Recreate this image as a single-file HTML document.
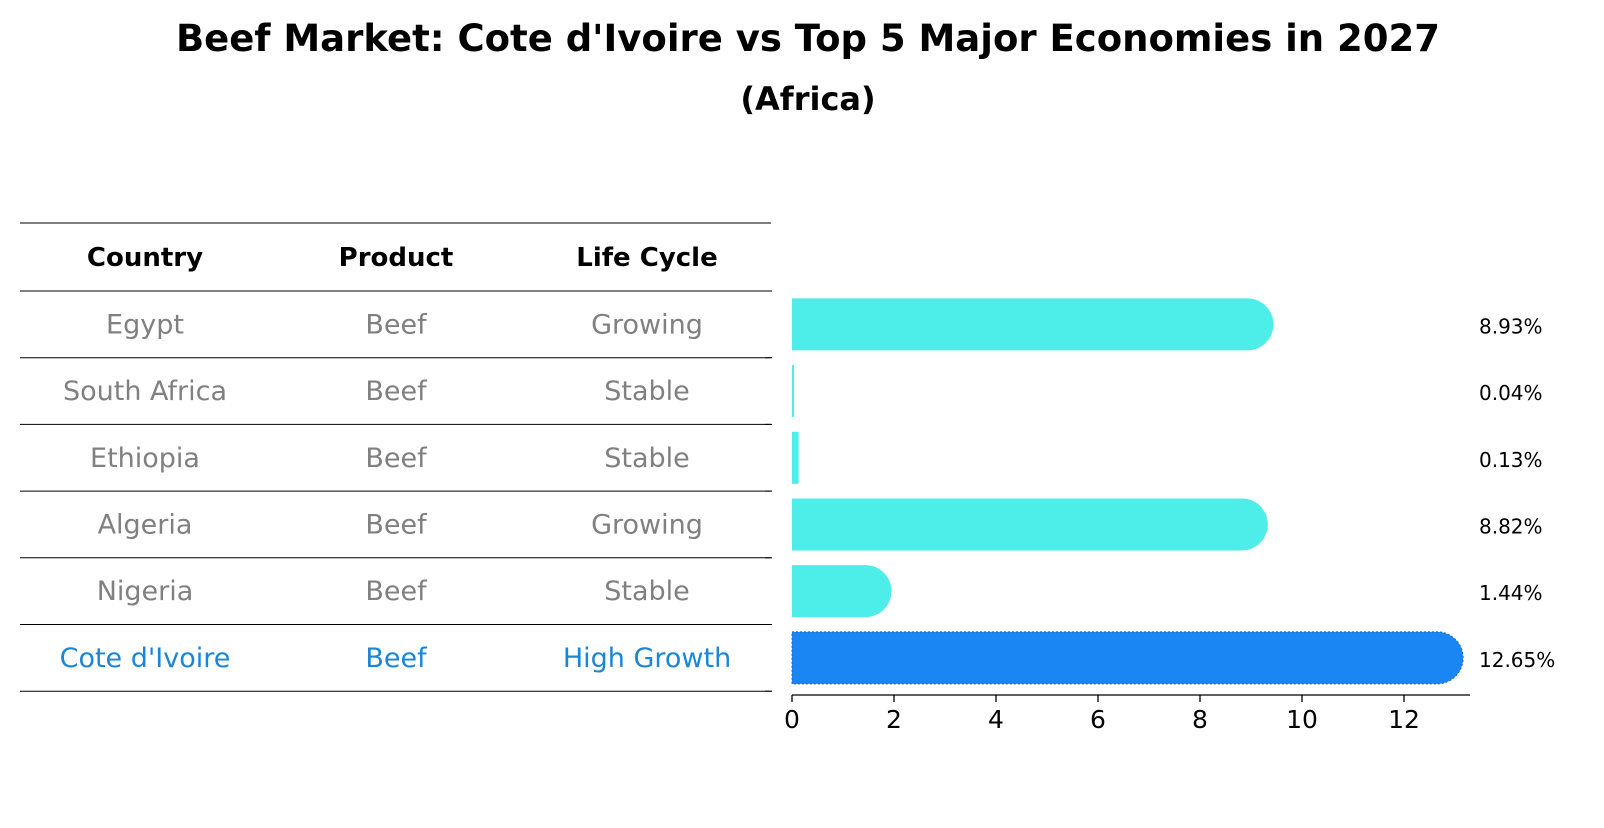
<!DOCTYPE html>
<html><head><meta charset="utf-8"><style>
body{margin:0;background:#fff;font-family:"Liberation Sans","DejaVu Sans",sans-serif}
svg text{font-family:"DejaVu Sans","Liberation Sans",sans-serif}
</style></head><body>
<svg id="chart" width="1604" height="823" xmlns="http://www.w3.org/2000/svg">
<text x="808" y="51" text-anchor="middle" font-size="37" font-weight="bold">Beef Market: Cote d'Ivoire vs Top 5 Major Economies in 2027</text>
<text x="808" y="110" text-anchor="middle" font-size="32" font-weight="bold">(Africa)</text>
<g id="table"></g>
<g id="bars"></g>
</svg>
<script>
const countries=["Egypt","South Africa","Ethiopia","Algeria","Nigeria","Cote d'Ivoire"];
const products=["Beef","Beef","Beef","Beef","Beef","Beef"];
const lifeCycles=["Growing","Stable","Stable","Growing","Stable","High Growth"];
const values=[8.93,0.04,0.13,8.82,1.44,12.65];
const xTicks=[0,2,4,6,8,10,12];
const highlight="Cote d'Ivoire";

const NS="http://www.w3.org/2000/svg";
function mk(tag,attrs,parent,txt){const e=document.createElementNS(NS,tag);for(const k in attrs)e.setAttribute(k,attrs[k]);if(txt!==undefined)e.textContent=txt;parent.appendChild(e);return e;}
const x0=792,pxU=51,rowTop=291,rowH=66.7,barH=52;
const xs=v=>x0+v*pxU;
const yc=i=>rowTop+rowH*(i+0.5);

const tbl=document.getElementById('table');
const cols=[145,396,647];
const hy=223;
const l0=mk('line',{x1:20,x2:771,y1:hy,y2:hy,stroke:'#000','stroke-width':1},tbl);


["Country","Product","Life Cycle"].forEach((h,j)=>{
  const t=mk('text',{x:cols[j],y:(hy+rowTop)/2+9,'text-anchor':'middle','font-size':26,'font-weight':'bold'},tbl,h);
  
  
});
for(let i=0;i<=countries.length;i++){
  const y=rowTop+rowH*i;
  const l=mk('line',{x1:20,x2:771,y1:y,y2:y,stroke:'#000','stroke-width':1},tbl);
  
  
}
countries.forEach((c,i)=>{
  const col=c===highlight?'#1a86d8':'#808080';
  [c,products[i],lifeCycles[i]].forEach((v,j)=>{
    const t=mk('text',{x:cols[j],y:yc(i)+9,'text-anchor':'middle','font-size':27,fill:col},tbl,v);
    
    
  });
});

const g=document.getElementById('bars');
values.forEach((v,i)=>{
  const hi=countries[i]===highlight;
  const w=xs(v)-x0, r=barH/2, top=yc(i)-r;
  let d;
  if(w>r){d=`M${x0},${top} H${xs(v)} A${r},${r} 0 0 1 ${xs(v)},${top+barH} H${x0} Z`;}
  else{d=`M${x0},${top} H${x0+w} V${top+barH} H${x0} Z`;}
  const p=mk('path',{d:d,fill:hi?'#1a86f4':'#4deeea',stroke:hi?'#1565c0':'none','stroke-width':hi?1:0,'stroke-dasharray':hi?'2,2':''},g);
  
  
  const t=mk('text',{x:1479,y:yc(i)+9,'font-size':20},g,v.toFixed(2)+'%');
  
  
});
for(let i=0;i<=values.length;i++){
  const y=rowTop+rowH*i;
  const l=mk('line',{x1:765,x2:772,y1:y,y2:y,stroke:'#000','stroke-width':1},g);
  
  
}
const ay=695;
const ax=mk('line',{x1:x0,x2:1470,y1:ay,y2:ay,stroke:'#000','stroke-width':1.3},g);


xTicks.forEach(v=>{
  const l=mk('line',{x1:xs(v),x2:xs(v),y1:ay,y2:ay+7,stroke:'#000','stroke-width':1.3},g);
  
  
  const t=mk('text',{x:xs(v),y:ay+33,'text-anchor':'middle','font-size':25},g,String(v));
  
  
});
</script>
</body></html>
